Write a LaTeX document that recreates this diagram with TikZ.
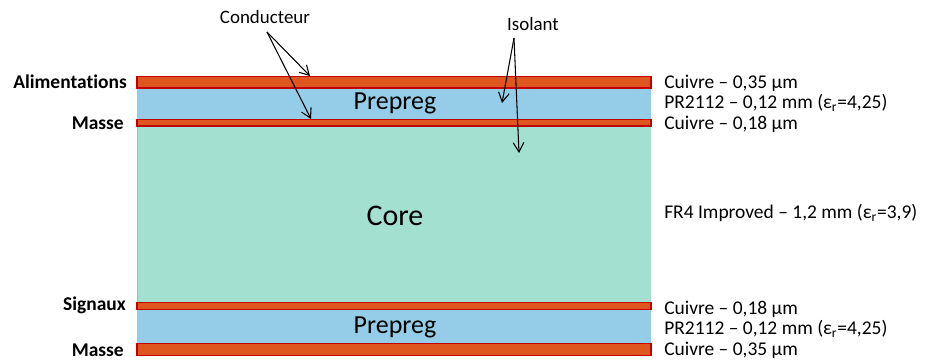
\documentclass[tikz,border=0pt]{standalone}
\usepackage{fontspec}
\setmainfont{Carlito}[Ligatures=NoCommon]
\usetikzlibrary{arrows.meta}
\definecolor{cu}{HTML}{E0561F}
\definecolor{cuedge}{HTML}{C00000}
\definecolor{prep}{HTML}{95CDE8}
\definecolor{coref}{HTML}{A4E0CF}
\tikzset{
  copper/.style={draw=cuedge, line width=1pt, fill=cu},
  prepreg/.style={fill=prep},
  core/.style={fill=coref},
  side/.style={anchor=west, font=\fontsize{14.6}{16}\selectfont, inner sep=0pt},
  lbl/.style={anchor=east, font=\fontsize{14.6}{16}\selectfont\bfseries, inner sep=0pt},
  callout/.style={font=\fontsize{14.2}{16}\selectfont, inner sep=0pt},
  ptr/.style={-{Straight Barb[length=7pt,width=8pt]}, line width=0.8pt}
}
\newcommand{\epsr}{ε\textsubscript{r}}
\begin{document}
\begin{tikzpicture}[x=0.75pt,y=-0.75pt]
\useasboundingbox (0,0) rectangle (927,361);
% layers
\fill[prepreg] (137,88) rectangle (651,119);
\fill[core] (137,126) rectangle (651,302);
\draw[gray!60, line width=0.5pt] (137,126) -- (137,302);
\fill[prepreg] (137,310) rectangle (651,343);
\draw[copper] (137,76.5) rectangle (651,88);
\draw[copper] (137,119.5) rectangle (651,126);
\draw[copper] (137,302.5) rectangle (651,309.5);
\draw[copper] (137,343.5) rectangle (651,355.5);
% inner labels
\node[font=\fontsize{19.5}{22}\selectfont] (prep1) at (395,103) {Prepreg};
\node[font=\fontsize{22.5}{26}\selectfont] (core) at (395,216) {Core};
\node[font=\fontsize{19.5}{22}\selectfont] (prep2) at (395,327) {Prepreg};
% left labels
\node[lbl] (alim) at (127,82) {Alimentations};
\node[lbl] (masse1) at (124,123) {Masse};
\node[lbl] (sig) at (126,305) {Signaux};
\node[lbl] (masse2) at (124,350) {Masse};
% right labels
\node[side] (r1) at (664,83) {Cuivre – 0,35 µm};
\node[side] (r2) at (664,103) {PR2112 – 0,12 mm (\epsr=4,25)};
\node[side] (r3) at (664,124) {Cuivre – 0,18 µm};
\node[side] (r4) at (664,213) {FR4 Improved – 1,2 mm (\epsr=3,9)};
\node[side] (r5) at (664,309) {Cuivre – 0,18 µm};
\node[side] (r6) at (664,329) {PR2112 – 0,12 mm (\epsr=4,25)};
\node[side] (r7) at (664,350) {Cuivre – 0,35 µm};
% callouts
\node[callout] (cond) at (265,17) {Conducteur};
\node[callout] (iso) at (533,24) {Isolant};
\coordinate (condA) at (267,32);
\coordinate (isoA) at (514,38);
\coordinate (t1) at (310,76);
\coordinate (t2) at (311,119);
\coordinate (t3) at (502,103);
\coordinate (t4) at (519,153);
\draw[ptr] (condA) -- (t1);
\draw[ptr] (condA) -- (t2);
\draw[ptr] (isoA) -- (t3);
\draw[ptr] (isoA) -- (t4);
\end{tikzpicture}
\end{document}
